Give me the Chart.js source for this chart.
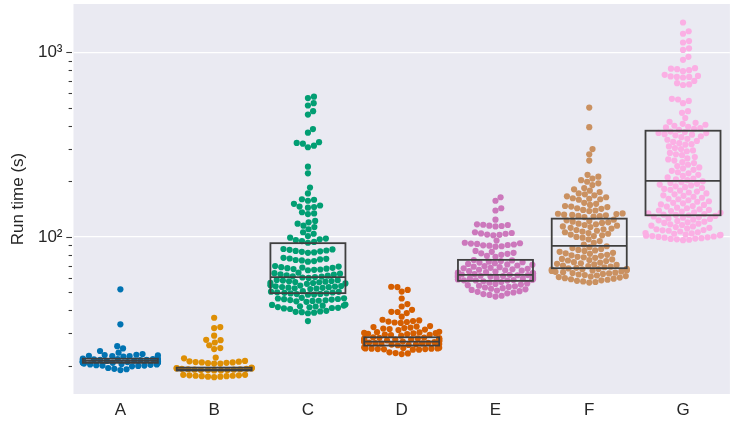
<!DOCTYPE html>
<html>
<head>
<meta charset="utf-8">
<script src="https://cdn.jsdelivr.net/npm/chart.js@4.4.1/dist/chart.umd.min.js"></script>
<style>
  body { margin: 0; background: #ffffff; }
  #wrap { width: 733px; height: 427px; }
</style>
</head>
<body>
<div id="wrap"><canvas id="runChart" width="733" height="427"></canvas></div>
<script>
// categories + seaborn "colorblind" palette
const categories = ['A', 'B', 'C', 'D', 'E', 'F', 'G'];
const colors = ['#0173b2', '#de8f05', '#029e73', '#d55e00', '#cc78bc', '#ca9161', '#fbafe4'];

// y axis ticks (log scale)
const yTickValues = [100, 1000];
const yTickLabels = ['10\u00b2', '10\u00b3'];
const yMinorTicks = [20, 30, 40, 50, 60, 70, 80, 90, 200, 300, 400, 500, 600, 700, 800, 900];

// boxes (seconds)
const boxQ1 = [20.8, 18.9, 49.6, 25.8, 57.8, 67.7, 131];
const boxMedian = [21.3, 19.1, 60.5, 27.1, 62.3, 89.4, 201];
const boxQ3 = [21.9, 19.6, 92.5, 28.6, 75.1, 125.6, 376];

// run times per category (seconds)
const runA = [52, 33.6, 25.6, 24.9, 24.1, 23.6, 23.2, 23.0, 22.9, 22.8, 22.7, 22.6, 22.6, 22.5,
  21.9, 21.9, 21.8, 21.8, 21.7, 21.7, 21.6, 21.6, 21.5, 21.5, 21.4, 21.4, 21.3, 21.3,
  21.2, 21.2, 21.1, 21.1, 21.0, 21.0, 21.0, 20.9, 20.9, 20.8, 20.8, 20.8,
  20.6, 20.5, 20.4, 20.4, 20.3, 20.2, 20.1, 20.1, 20.0, 19.9, 19.5, 19.3, 19.2, 19.0];
const runB = [36.5, 32.5, 32.1, 29.2, 27.7, 27.6, 26.8, 25.9, 25.0, 24.7, 22.2, 22.0,
  21.3, 21.2, 21.1, 21.0, 20.9, 20.9, 20.8, 20.7, 20.6, 20.6,
  19.6, 19.5, 19.5, 19.4, 19.4, 19.3, 19.3, 19.2, 19.2, 19.1, 19.1, 19.0, 19.0, 19.0, 18.9, 18.9,
  17.9, 17.9, 17.8, 17.8, 17.7, 17.7, 17.6, 17.6, 17.5, 17.5, 17.4];
const runC = [575, 565, 530, 515, 480, 460, 384, 367, 326, 323, 320, 312, 306, 240, 221, 185, 172,
  160, 159, 157, 151, 148, 146, 145, 144, 136, 134, 133, 122, 120, 118, 115, 113,
  110, 106, 104, 101, 99, 98, 97, 96, 95, 94, 93,
  86, 85.6, 85.1, 84.4, 84, 83.6, 83, 82.4, 82,
  77, 76.4, 76.1, 75.5, 75, 74.6, 74, 73.4,
  69.5, 69.1, 68.6, 68.2, 68, 67.7, 67.3, 67, 66.6, 66.3, 66,
  64, 63.6, 63.2, 62.7, 62.5, 62, 61.7, 61.2, 61, 60.6, 60.3, 60,
  58.5, 58.3, 58, 57.7, 57.5, 57.2, 57, 56.8, 56.4, 56.3, 56, 55.7,
  54.8, 54.5, 54.2, 54, 53.8, 53.5, 53.4, 53.1, 53, 52.7, 52.5, 52.2,
  50.8, 50.5, 50.4, 50.1, 50, 49.8, 49.5, 49.4, 49.1, 49, 48.7, 48.6,
  46.8, 46.5, 46.4, 46.1, 46, 45.8, 45.5, 45.4, 45.1, 45, 44.8, 44.5,
  43, 42.8, 42.5, 42.4, 42.1, 42, 41.7, 41.6, 41.3, 41.2, 41, 40.7,
  39.8, 39.5, 39.3, 39.1, 38.9, 38.6, 35];
const runD = [53.7, 53.5, 51.6, 50.6, 46.4, 43.3, 42.0, 40.3, 39.3, 39.2, 38.7, 37.0,
  35.6, 35.3, 35.0, 34.8, 34.6, 34.4, 34.2,
  32.9, 32.7, 32.5, 32.3, 32.1, 31.9, 31.7, 31.5, 31.3,
  30.6, 30.5, 30.4, 30.2, 30.1, 30.0, 29.9, 29.8, 29.6, 29.5, 29.4, 29.2,
  28.6, 28.5, 28.4, 28.3, 28.2, 28.1, 28.0, 27.9, 27.8, 27.7, 27.6, 27.5, 27.4, 27.3,
  27.2, 27.1, 27.0, 26.9, 26.8, 26.7, 26.6, 26.5, 26.4, 26.3, 26.2, 26.1, 26.0, 25.9,
  25.2, 25.1, 25.0, 24.9, 24.9, 24.8, 24.8, 24.7, 24.7, 24.6, 24.5, 24.5,
  23.7, 23.5, 23.4, 23.2];
const runE = [164, 157, 143, 139, 124, 117, 116.4, 116, 115, 114.6, 114,
  106, 105, 104.4, 104, 103, 102.6, 102, 95.5,
  93, 92.4, 92, 91.6, 91, 90.4, 90, 89.6, 89, 88.5,
  84, 83, 82, 81.5, 81, 80, 79, 78,
  75, 74.6, 74, 73.4, 73, 72.6, 72, 71.4, 71, 70.6, 70, 69.4, 69, 68.6, 68, 67.6,
  67.2, 66.8, 66.4, 66, 65.6, 65.2, 64.8, 64.4, 64, 63.8, 63.6, 63.4, 63.2, 63, 62.8, 62.6, 62.4, 62.3,
  62.2, 62.1, 62, 61.9, 61.8, 61.6, 61.4, 61.2, 61, 60.8, 60.6, 60.4, 60.2, 60,
  59.8, 59.6, 59.4, 59.2, 59, 58.8, 58.6, 58.4, 58.2, 58.1, 58,
  57.5, 57, 56.5, 56, 55.6, 55.2, 54.8, 54.4, 54, 53.6, 53.2, 52.8,
  52.4, 52, 51.6, 51.2, 50.8, 50.4, 50, 49.5, 49, 48.5, 48, 47.5];
const runF = [502, 393, 299, 280, 259, 217, 212, 207, 203, 199, 195, 191,
  184, 181, 178, 175, 172, 170, 168, 166, 164, 162, 161, 160, 159,
  153, 151, 149, 147, 146, 145, 143, 142, 140, 139, 138,
  134, 133.5, 133, 132, 131.5, 131, 130, 129.5, 129, 128,
  124, 123, 122, 121, 120, 119, 118, 117, 116, 115, 114, 113, 112, 111, 110,
  109, 108, 107, 106, 105, 104, 103, 102, 101, 100, 99, 97, 95, 93, 91,
  89, 88, 87, 86, 85, 84.5, 84, 83, 82, 81.5, 81, 80, 79.5, 79, 78, 77.5, 77,
  76, 75.5, 75, 74.5, 74, 73, 72.5, 72, 71.5, 71, 70.5, 70, 69.5, 69, 68.5, 68,
  67.5, 67.2, 67, 66.8, 66.5, 66.2, 66, 65.7, 65.4, 65, 64.7, 64.4, 64, 63.7, 63.4, 63,
  62.6, 62.2, 61.8, 61.4, 61, 60.6, 60.2, 59.8, 59.4, 59, 58.6, 58.2, 57.8, 57.4, 57, 56.6];
const runG = [1450, 1300, 1260, 1150, 1130, 1050, 1030, 945, 910,
  820, 815, 810, 800, 790, 755, 745, 740, 735, 735, 730, 700, 680, 670, 665,
  560, 555, 545, 530, 480, 470, 440,
  420, 415, 410, 405, 400, 395, 392, 388, 385, 380, 370, 365, 360, 355,
  372, 366, 358, 351, 347, 340, 336, 331, 327, 322, 318, 316, 309, 303, 299, 294, 291, 285, 280, 277,
  271, 266, 263, 259, 254, 251, 246, 242, 238, 235, 231, 228, 224, 221, 217, 214, 210, 207, 205, 203,
  200, 198, 196, 194, 192, 190, 188, 186, 184, 182, 180, 178, 176, 174, 172, 170, 168, 167, 165, 163,
  161, 160, 158, 156, 155, 153, 152, 150, 149, 147, 146, 144, 143, 141, 140, 139, 138, 137, 136, 135,
  134, 133, 132, 131.5, 131,
  130, 129, 128, 127, 126, 125, 124, 123, 122, 121, 120, 119, 118, 117, 116, 115, 114, 113, 112, 111,
  110, 109, 108.5, 108, 107, 106, 105, 104.5, 104, 103, 102.5, 102, 101.5, 101, 100.5, 100, 99.5, 99,
  98.5, 98, 97.5, 97, 96.5, 96];
const runTimes = [runA, runB, runC, runD, runE, runF, runG];

const fontFamily = '"Liberation Sans", Arial, sans-serif';
const textColor = '#262626';
const dotRadius = 3.1;
const dotGap = 6.2;
const swarmHalf = 0.4;

// place dots like a beeswarm (pixel space, lowest value first)
function beeswarm(py, d) {
    const order = py.map((_, i) => i).sort((a, b) => py[b] - py[a]);
    const placed = [];
    const out = new Array(py.length);
    order.forEach(i => {
        const y = py[i];
        const near = placed.filter(p => Math.abs(p.y - y) < d);
        const cands = [0];
        near.forEach(p => {
            const dx = Math.sqrt(d * d - (p.y - y) * (p.y - y));
            cands.push(p.x + dx, p.x - dx);
        });
        cands.sort((a, b) => Math.abs(a) - Math.abs(b));
        const x = cands.find(c => near.every(p => (p.x - c) ** 2 + (p.y - y) ** 2 >= d * d - 0.01));
        placed.push({ x: x, y: y });
        out[i] = x;
    });
    return out;
}

//=============plugins====================//
const plotBackground = {
    id: 'plotBackground',
    beforeDraw(chart) {
        const a = chart.chartArea;
        const ctx = chart.ctx;
        ctx.save();
        ctx.fillStyle = '#eaeaf2';
        ctx.fillRect(a.left, a.top, a.right - a.left, a.bottom - a.top);
        ctx.restore();
    }
};

const boxOutlines = {
    id: 'boxOutlines',
    afterDatasetsDraw(chart) {
        const ctx = chart.ctx;
        const xs = chart.scales.x, ys = chart.scales.y;
        ctx.save();
        ctx.strokeStyle = '#3f3f3f';
        ctx.lineWidth = 1.8;
        categories.forEach((c, i) => {
            const x0 = xs.getPixelForValue(i - swarmHalf);
            const x1 = xs.getPixelForValue(i + swarmHalf);
            const yLo = ys.getPixelForValue(boxQ1[i]);
            const yHi = ys.getPixelForValue(boxQ3[i]);
            const yMed = ys.getPixelForValue(boxMedian[i]);
            ctx.strokeRect(x0, yHi, x1 - x0, yLo - yHi);
            ctx.beginPath();
            ctx.moveTo(x0, yMed);
            ctx.lineTo(x1, yMed);
            ctx.stroke();
        });
        ctx.restore();
    }
};

const yTickMarks = {
    id: 'yTickMarks',
    afterDraw(chart) {
        const ctx = chart.ctx;
        const ys = chart.scales.y;
        const left = chart.chartArea.left - 1.5;
        ctx.save();
        ctx.strokeStyle = '#3c3c3c';
        ctx.lineWidth = 1.1;
        yMinorTicks.concat(yTickValues).forEach(v => {
            const y = Math.round(ys.getPixelForValue(v)) + 0.5;
            const len = yTickValues.includes(v) ? 5.7 : 3.4;
            ctx.beginPath();
            ctx.moveTo(left - len, y);
            ctx.lineTo(left, y);
            ctx.stroke();
        });
        ctx.restore();
    }
};

const ctx = document.getElementById('runChart').getContext('2d');
const chart = new Chart(ctx, {
    type: 'scatter',
    data: {
        datasets: runTimes.map((vals, i) => ({
            label: categories[i],
            data: vals.map(v => ({ x: i, y: v })),
            backgroundColor: colors[i],
            borderWidth: 0,
            pointRadius: dotRadius,
            pointHoverRadius: dotRadius
        }))
    },
    options: {
        responsive: false,
        animation: false,
        layout: { padding: { top: 4, right: 1.5, bottom: 0, left: 0 } },
        plugins: { legend: { display: false }, tooltip: { enabled: false } },
        scales: {
            x: {
                type: 'linear',
                min: -0.5,
                max: 6.5,
                afterBuildTicks: s => { s.ticks = categories.map((c, i) => ({ value: i })); },
                afterFit: s => { s.height = 33; s.paddingLeft = 0; s.paddingRight = 0; },
                grid: { display: false, drawTicks: false },
                border: { display: false },
                ticks: {
                    autoSkip: false,
                    padding: 6,
                    color: textColor,
                    font: { family: fontFamily, size: 17 },
                    callback: v => categories[v]
                }
            },
            y: {
                type: 'logarithmic',
                min: 14.1,
                max: 1826,
                afterBuildTicks: s => {
                    s.ticks = yMinorTicks.concat(yTickValues).sort((a, b) => a - b).map(v => ({ value: v }));
                },
                afterFit: s => { s.width = 73.5; s.paddingTop = 0; s.paddingBottom = 0; },
                grid: {
                    drawTicks: false,
                    lineWidth: 1.3,
                    color: c => (c.tick && yTickValues.includes(c.tick.value)) ? '#ffffff' : 'rgba(0,0,0,0)'
                },
                border: { display: false },
                ticks: {
                    autoSkip: false,
                    padding: 11,
                    color: textColor,
                    font: { family: fontFamily, size: 17 },
                    callback: v => {
                        const k = yTickValues.indexOf(v);
                        return k >= 0 ? yTickLabels[k] : '';
                    }
                },
                title: {
                    display: true,
                    text: 'Run time (s)',
                    color: textColor,
                    font: { family: fontFamily, size: 17 },
                    padding: { top: 8, bottom: 0 }
                }
            }
        }
    },
    plugins: [plotBackground, boxOutlines, yTickMarks]
});

// second pass: spread the dots now that the scales know their pixels
const xScale = chart.scales.x, yScale = chart.scales.y;
const unit = xScale.getPixelForValue(1) - xScale.getPixelForValue(0);
runTimes.forEach((vals, i) => {
    const off = beeswarm(vals.map(v => yScale.getPixelForValue(v)), dotGap);
    chart.data.datasets[i].data = vals.map((v, k) => ({
        x: i + Math.max(-swarmHalf, Math.min(swarmHalf, off[k] / unit)),
        y: v
    }));
});
chart.update('none');
</script>
</body>
</html>
